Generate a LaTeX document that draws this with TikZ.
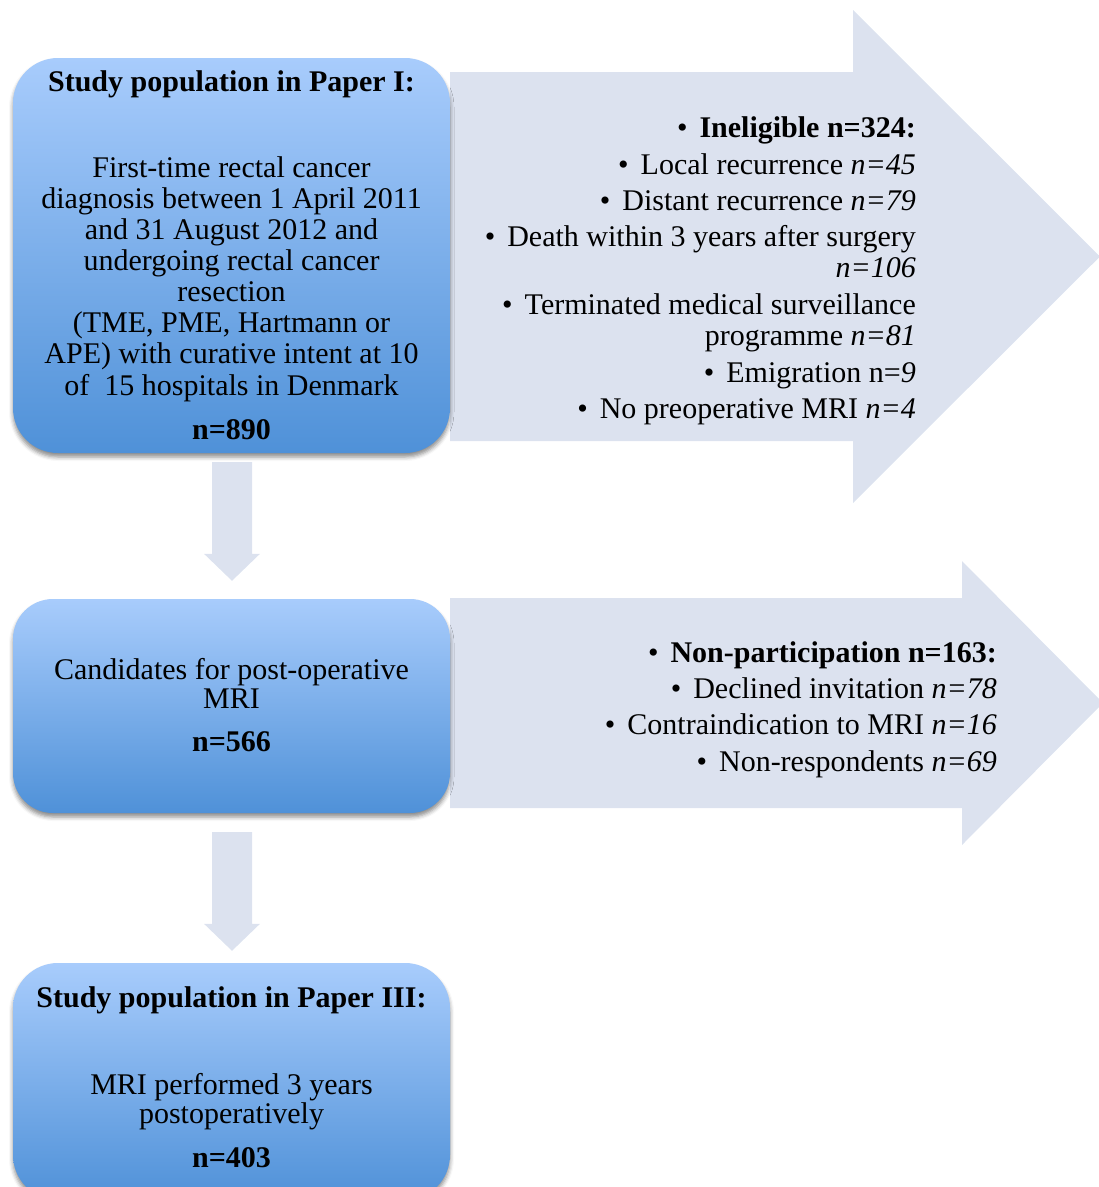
\documentclass[tikz,border=0pt]{standalone}
\usepackage{fontspec}
\setmainfont{Liberation Serif}
\usetikzlibrary{calc,shadows.blur}
\definecolor{boxtop}{RGB}{168,204,252}
\definecolor{boxbot}{RGB}{79,145,216}
\definecolor{arrfill}{RGB}{220,226,239}
\newcommand\dnarrow[2]{%
  \fill[blk] ($(#1)+(-20,0)$) -- ($(#1)+(20,0)$) -- ($(#2)+(20,-27)$) -- ($(#2)+(28,-27)$) -- (#2) -- ($(#2)+(-28,-27)$) -- ($(#2)+(-20,-27)$) -- cycle;}
\begin{document}
\begin{tikzpicture}[x=1pt,y=-1pt,
  box/.style={rounded corners=45pt, top color=boxtop, bottom color=boxbot, draw=none,
    minimum width=437pt, inner sep=0pt,
    blur shadow={shadow xshift=0pt, shadow yshift=-4pt, shadow blur radius=4pt, shadow opacity=45}},
  txt/.style={inner sep=0pt, font=\fontsize{30}{31}\selectfont, anchor=base},
  rtxt/.style={txt, anchor=base east},
  blk/.style={fill=arrfill, draw=none}]
\useasboundingbox (0,0) rectangle (1099,1187);

% big block arrows
\fill[blk] (450,72) -- (853,72) -- (853,10) -- (1100,256.5) -- (853,503) -- (853,441) -- (450,441) -- cycle;
\fill[blk] (450,598) -- (962,598) -- (962,561) -- (1103,703) -- (962,845) -- (962,808) -- (450,808) -- cycle;

% boxes
\node[box, minimum height=395pt] (b1) at (231.5,255.5) {};
\node[box, minimum height=214pt, rounded corners=40pt] (b2) at (231.5,706) {};
\node[box, minimum height=237pt] (b3) at (231.5,1081.5) {};

% down arrows
\path (b1.south) ++(0.5,9) coordinate (d1a);
\path (b2.north) ++(0.5,-18) coordinate (d1b);
\dnarrow{d1a}{d1b}
\path (b2.south) ++(0.5,19) coordinate (d2a);
\path (b3.north) ++(0.5,-12) coordinate (d2b);
\dnarrow{d2a}{d2b}

% box 1 text
\node[txt] (t1h) at (231.5,91) {\bfseries Study population in Paper I:};
\node[txt] (t1a) at (231.5,177) {First-time rectal cancer};
\node[txt] (t1b) at (231.5,208.1) {diagnosis between 1 April 2011};
\node[txt] (t1c) at (231.5,239.3) {and 31 August 2012 and};
\node[txt] (t1d) at (231.5,270.4) {undergoing rectal cancer};
\node[txt] (t1e) at (231.5,301.6) {resection};
\node[txt] (t1f) at (231.5,332.7) {(TME, PME, Hartmann or};
\node[txt] (t1g) at (231.5,363.9) {APE) with curative intent at 10};
\node[txt] (t1i) at (231.5,395) {of\ \ 15 hospitals in Denmark};
\node[txt] (t1n) at (231.5,439) {\bfseries n=890};

% arrow 1 text
\node[rtxt] (r1a) at (916,137) {•\hspace{12pt}\bfseries Ineligible n=324:};
\node[rtxt] (r1b) at (916,174) {•\hspace{12pt}Local recurrence \textit{n=45}};
\node[rtxt] (r1c) at (916,210) {•\hspace{12pt}Distant recurrence \textit{n=79}};
\node[rtxt] (r1d) at (916,246) {•\hspace{12pt}Death within 3 years after surgery};
\node[rtxt] (r1e) at (916,277) {\textit{n=106}};
\node[rtxt] (r1f) at (916,314) {•\hspace{12pt}Terminated medical surveillance};
\node[rtxt] (r1g) at (916,345) {programme \textit{n=81}};
\node[rtxt] (r1h) at (916,382) {•\hspace{12pt}Emigration n=\textit{9}};
\node[rtxt] (r1i) at (916,418) {•\hspace{12pt}No preoperative MRI \textit{n=4}};

% box 2 text
\node[txt] (t2a) at (231.5,679) {Candidates for post-operative};
\node[txt] (t2b) at (231.5,708) {MRI};
\node[txt] (t2n) at (231.5,751) {\bfseries n=566};

% arrow 2 text
\node[rtxt] (r2a) at (997,662) {•\hspace{12pt}\bfseries Non-participation n=163:};
\node[rtxt] (r2b) at (997,698) {•\hspace{12pt}Declined invitation \textit{n=78}};
\node[rtxt] (r2c) at (997,734) {•\hspace{12pt}Contraindication to MRI \textit{n=16}};
\node[rtxt] (r2d) at (997,771) {•\hspace{12pt}Non-respondents \textit{n=69}};

% box 3 text
\node[txt] (t3h) at (231.5,1007) {\bfseries Study population in Paper III:};
\node[txt] (t3a) at (231.5,1094) {MRI performed 3 years};
\node[txt] (t3b) at (231.5,1123) {postoperatively};
\node[txt] (t3n) at (231.5,1167) {\bfseries n=403};
\end{tikzpicture}
\end{document}
